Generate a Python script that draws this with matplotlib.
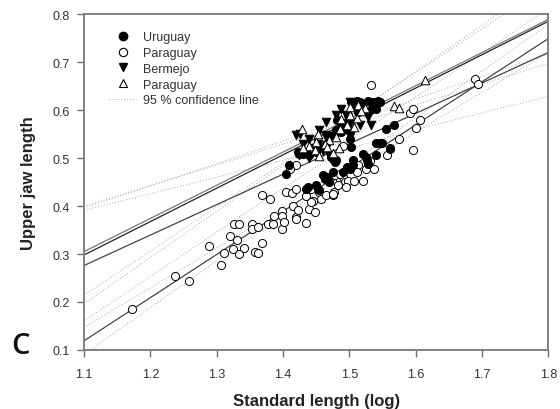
import numpy as np
import matplotlib
matplotlib.use("Agg")
import matplotlib.pyplot as plt
from matplotlib.lines import Line2D

plt.rcParams['font.family'] = ['Liberation Sans', 'DejaVu Sans']

# Uruguay (filled circles)
uru_x = [1.405, 1.409, 1.424, 1.435, 1.435, 1.438, 1.450, 1.455, 1.463, 1.466, 1.460, 1.470,
         1.473, 1.476, 1.478, 1.480, 1.476, 1.491, 1.496, 1.501, 1.506, 1.506, 1.521, 1.525,
         1.526, 1.528, 1.540, 1.541, 1.546, 1.550, 1.561, 1.555, 1.567,
         1.503, 1.511, 1.516, 1.528, 1.536, 1.543, 1.546, 1.498, 1.513, 1.531, 1.541, 1.491,
         1.501, 1.496, 1.470, 1.480, 1.455, 1.465, 1.450, 1.501, 1.503, 1.430, 1.423, 1.440,
         1.478, 1.488, 1.481, 1.488]
uru_y = [0.467, 0.486, 0.509, 0.513, 0.436, 0.440, 0.443, 0.433, 0.457, 0.461, 0.464, 0.450,
         0.502, 0.499, 0.492, 0.497, 0.471, 0.471, 0.481, 0.478, 0.485, 0.495, 0.509, 0.502,
         0.495, 0.488, 0.507, 0.532, 0.532, 0.532, 0.521, 0.561, 0.568,
         0.617, 0.620, 0.617, 0.620, 0.617, 0.620, 0.616, 0.589, 0.596, 0.600, 0.603, 0.561,
         0.554, 0.575, 0.547, 0.558, 0.523, 0.530, 0.513, 0.540, 0.523, 0.509, 0.513, 0.506,
         0.551, 0.554, 0.579, 0.572]

# Paraguay (open circles)
parc_x = [1.173, 1.237, 1.259, 1.307, 1.289, 1.311, 1.324, 1.334, 1.320, 1.331, 1.341, 1.326,
          1.334, 1.358, 1.363, 1.369, 1.354, 1.353, 1.363, 1.369, 1.380, 1.378, 1.385, 1.386,
          1.398, 1.399, 1.398, 1.401, 1.404, 1.414, 1.420, 1.415, 1.419, 1.423, 1.420, 1.435,
          1.440, 1.445, 1.448, 1.435, 1.443, 1.453, 1.420, 1.410, 1.455, 1.443, 1.458, 1.465,
          1.475, 1.477, 1.481, 1.486, 1.491, 1.493, 1.498, 1.478, 1.486, 1.483, 1.476, 1.495,
          1.507, 1.520, 1.513, 1.511, 1.525, 1.537, 1.531, 1.557, 1.562, 1.596, 1.575, 1.601,
          1.606, 1.591, 1.596, 1.532, 1.689, 1.694, 1.491]
parc_y = [0.186, 0.255, 0.244, 0.277, 0.316, 0.302, 0.311, 0.300, 0.337, 0.330, 0.312, 0.363,
          0.363, 0.304, 0.302, 0.323, 0.363, 0.352, 0.356, 0.424, 0.415, 0.363, 0.363, 0.379,
          0.389, 0.380, 0.353, 0.367, 0.430, 0.428, 0.436, 0.401, 0.377, 0.391, 0.373, 0.365,
          0.394, 0.410, 0.387, 0.421, 0.436, 0.435, 0.486, 0.478, 0.429, 0.408, 0.415, 0.422,
          0.422, 0.430, 0.450, 0.457, 0.461, 0.450, 0.453, 0.464, 0.467, 0.443, 0.426, 0.440,
          0.453, 0.453, 0.485, 0.471, 0.478, 0.478, 0.493, 0.507, 0.518, 0.516, 0.539, 0.563,
          0.579, 0.593, 0.603, 0.653, 0.664, 0.655, 0.525]

# Bermejo (filled triangles)
ber_x = [1.420, 1.425, 1.424, 1.455, 1.463, 1.480, 1.488, 1.501, 1.528, 1.533, 1.470, 1.473,
         1.440, 1.430, 1.516, 1.501, 1.491, 1.543, 1.448, 1.453, 1.510, 1.520, 1.495, 1.465,
         1.440, 1.460]
ber_y = [0.549, 0.551, 0.506, 0.558, 0.549, 0.589, 0.603, 0.617, 0.586, 0.568, 0.506, 0.547,
         0.540, 0.530, 0.568, 0.572, 0.558, 0.610, 0.521, 0.530, 0.600, 0.612, 0.590, 0.575,
         0.500, 0.515]

# Paraguay (open triangles)
part_x = [1.429, 1.614, 1.568, 1.575, 1.501, 1.513, 1.523, 1.501, 1.511, 1.496, 1.507, 1.486,
          1.480, 1.470, 1.463, 1.453, 1.450, 1.440, 1.430, 1.448, 1.466, 1.488, 1.518, 1.455,
          1.475, 1.485]
part_y = [0.561, 0.662, 0.609, 0.605, 0.607, 0.610, 0.605, 0.589, 0.584, 0.568, 0.565, 0.561,
          0.544, 0.537, 0.530, 0.551, 0.534, 0.525, 0.521, 0.516, 0.523, 0.582, 0.598, 0.505,
          0.510, 0.520]

# regression lines read at x = 1.1 and x = 1.8
line_x = [1.1, 1.8]
uru_fit = [0.276, 0.720]
parc_fit = [0.119, 0.749]
ber_fit = [0.298, 0.785]
part_fit = [0.305, 0.789]

xticks = [1.1, 1.2, 1.3, 1.4, 1.5, 1.6, 1.7, 1.8]
yticks = [0.1, 0.2, 0.3, 0.4, 0.5, 0.6, 0.7, 0.8]

fig = plt.figure(figsize=(5.6, 4.1), dpi=100)
ax = fig.add_axes([0.150, 0.144, 0.829, 0.819])

xs = np.linspace(1.1, 1.8, 200)
groups = [(uru_x, uru_y, uru_fit, '#444444'),
          (parc_x, parc_y, parc_fit, '#444444'),
          (ber_x, ber_y, ber_fit, '#222222'),
          (part_x, part_y, part_fit, '#777777')]
for gx, gy, fit, col in groups:
    gx = np.array(gx)
    gy = np.array(gy)
    slope = (fit[1] - fit[0]) / (line_x[1] - line_x[0])
    yhat = fit[0] + slope * (xs - line_x[0])
    # 95 % band around the line from the scatter of the points
    res = gy - (fit[0] + slope * (gx - line_x[0]))
    n = len(gx)
    s = np.sqrt(np.sum(res ** 2) / (n - 2))
    sxx = np.sum((gx - gx.mean()) ** 2)
    half = 2.0 * s * np.sqrt(1.0 / n + (xs - gx.mean()) ** 2 / sxx)
    ax.plot(xs, yhat + half, ls=(0, (1, 2)), color='#aaaaaa', lw=0.7, zorder=1)
    ax.plot(xs, yhat - half, ls=(0, (1, 2)), color='#aaaaaa', lw=0.7, zorder=1)
    ax.plot(line_x, fit, color=col, lw=0.9, zorder=2)

ax.scatter(parc_x, parc_y, s=34, marker='o', facecolor='white', edgecolor='black', lw=0.7, zorder=3)
ax.scatter(uru_x, uru_y, s=34, marker='o', facecolor='black', edgecolor='black', lw=0.7, zorder=4)
ax.scatter(ber_x, ber_y, s=38, marker='v', facecolor='black', edgecolor='black', lw=0.7, zorder=4)
ax.scatter(part_x, part_y, s=38, marker='^', facecolor='white', edgecolor='black', lw=0.7, zorder=5)

ax.set_xlim(1.1, 1.8)
ax.set_ylim(0.1, 0.8)
ax.set_xticks(xticks)
ax.set_yticks(yticks)
ax.set_xticklabels([f'{v:.1f}' for v in xticks])
ax.set_yticklabels([f'{v:.1f}' for v in yticks])
ax.tick_params(direction='out', length=5, width=1, color='#707070', labelsize=9,
               labelcolor='#333333')
ax.tick_params(axis='x', pad=8)
ax.tick_params(axis='y', pad=5)
for sp in ax.spines.values():
    sp.set_color('#808080')
    sp.set_linewidth(1.4)

ax.set_xlabel('Standard length (log)', fontsize=12, fontweight='bold', color='#222222', labelpad=9)
ax.set_ylabel('Upper jaw length', fontsize=12, fontweight='bold', color='#222222', labelpad=12)

handles = [
    Line2D([], [], ls='none', marker='o', ms=6, mfc='black', mec='black'),
    Line2D([], [], ls='none', marker='o', ms=6, mfc='white', mec='black', mew=0.8),
    Line2D([], [], ls='none', marker='v', ms=6, mfc='black', mec='black'),
    Line2D([], [], ls='none', marker='^', ms=6, mfc='white', mec='black', mew=0.8),
    Line2D([], [], ls=(0, (1, 2)), color='#aaaaaa', lw=0.7),
]
labels = ['Uruguay', 'Paraguay', 'Bermejo', 'Paraguay', '95 % confidence line']
leg = ax.legend(handles, labels, loc='upper left', bbox_to_anchor=(0.035, 0.975), frameon=False,
                fontsize=9, handlelength=2.2, handletextpad=0.5, labelspacing=0.3,
                borderaxespad=0.3)
for t in leg.get_texts():
    t.set_color('#333333')

fig.text(0.020, 0.156, 'C', fontsize=21, family='Open Sans', fontweight='semibold',
         color='#111111', va='center', ha='left')

fig.savefig('out.png', dpi=100)
